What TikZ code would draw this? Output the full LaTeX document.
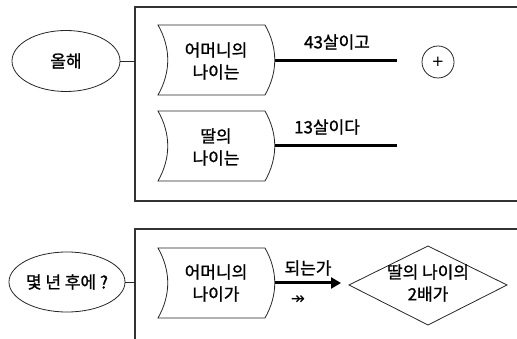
\documentclass[tikz,border=0pt]{standalone}
\usepackage{fontspec}
\newfontfamily\kr[FakeBold=1.2]{Noto Sans CJK KR}
\newfontfamily\dejavu{DejaVu Sans}
\usetikzlibrary{shapes.geometric,arrows.meta}
\tikzset{
  frame/.style={line width=1.1pt, draw=black!80},
  thin/.style={line width=0.8pt, draw=black!85},
  txt/.style={align=center, inner sep=0pt, font=\kr\fontsize{17}{22}\selectfont},
  thickline/.style={line width=3pt, black},
  tape/.pic={\draw[thin] (0,0) -- (107,0) .. controls (120,23) and (120,47) .. (107,70) -- (0,70) .. controls (13,47) and (13,23) .. (0,0) -- cycle;}
}
\begin{document}
\begin{tikzpicture}[x=1pt,y=-1pt]
\useasboundingbox (0,0) rectangle (517,339);
% frames
\draw[frame] (517,7) -- (135,7) -- (135,201) -- (517,201);
\draw[frame] (517,229) -- (135,229) -- (135,339);
\coordinate (f1) at (135,61);
\coordinate (f2) at (135,282);
% ellipses
\node[ellipse, thin, draw, minimum width=108pt, minimum height=61pt, inner sep=0pt, txt] (e1) at (66,61) {올해};
\node[ellipse, thin, draw, minimum width=108pt, minimum height=60pt, inner sep=0pt, txt] (e2) at (67,282) {몇 년 후에 ?};
\draw[thin] (e1.east) -- (f1);
\draw[thin] (e2.east) -- (f2);
% tape shapes
\pic at (158,25) {tape};
\pic at (158,111) {tape};
\pic at (158,248) {tape};
\node[txt] (m1) at (216,61) {어머니의\\나이는};
\node[txt] (d1) at (216,147) {딸의\\나이는};
\node[txt] (m2) at (216,283) {어머니의\\나이가};
\coordinate (b1) at (275,61);
\coordinate (b2) at (275,146);
\coordinate (b3) at (275,283);
\coordinate (t1) at (397,61);
\coordinate (t2) at (397,146);
\coordinate (t3) at (341,283);
\draw[thickline] (b1) -- (t1);
\draw[thickline] (b2) -- (t2);
\draw[thickline, -{Triangle[length=10pt,width=11pt]}] (b3) -- (t3);
\node[txt] (l1) at (337,42) {43살이고};
\node[txt] (l2) at (327,127) {13살이다};
\node[txt] (l3) at (308,268) {되는가};
\node[inner sep=0pt, font=\dejavu\fontsize{17}{18}\selectfont] (l4) at (298,300) {↠};
% plus circle
\node[circle, thin, draw, minimum size=32pt, inner sep=0pt, font=\dejavu\fontsize{15}{16}\selectfont] (plus) at (438,62) {+};
% diamond
\coordinate (dl) at (349,285);
\coordinate (dt) at (428,246);
\coordinate (dr) at (507,285);
\coordinate (db) at (428,325);
\draw[thin] (dl) -- (dt) -- (dr) -- (db) -- cycle;
\node[txt] (dtext) at (428,283) {딸의 나이의\\2배가};
\end{tikzpicture}
\end{document}
